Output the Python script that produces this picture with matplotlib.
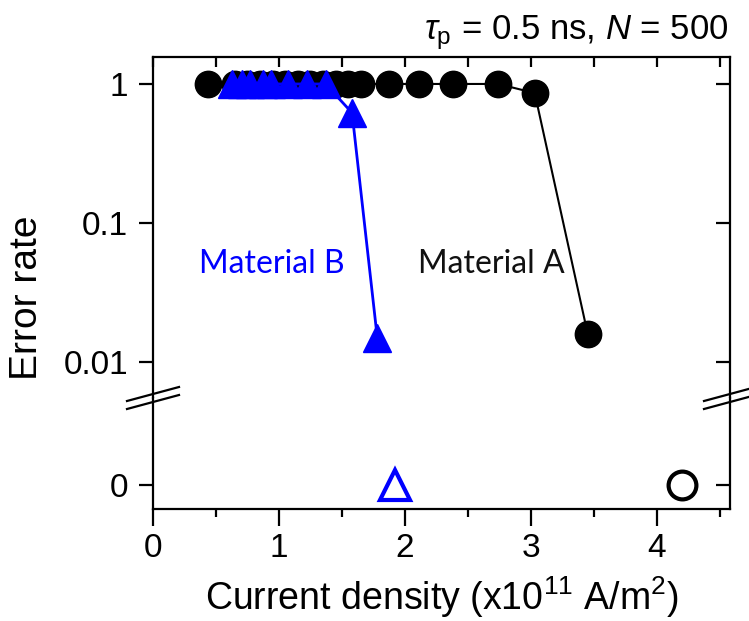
import matplotlib
matplotlib.use("Agg")
import matplotlib.pyplot as plt
from matplotlib.lines import Line2D

plt.rcParams['font.family'] = ['Liberation Sans', 'DejaVu Sans']
plt.rcParams['mathtext.fontset'] = 'custom'
plt.rcParams['mathtext.rm'] = 'Liberation Sans'
plt.rcParams['mathtext.it'] = 'Liberation Sans:italic'
plt.rcParams['mathtext.bf'] = 'Liberation Sans:bold'

# ---- data ----
a_x = [0.44, 0.65, 0.75, 0.85, 0.95, 1.05, 1.15, 1.25, 1.35, 1.45, 1.55, 1.65, 1.87, 2.11, 2.38, 2.74, 3.03, 3.45]
a_y = [1, 1, 1, 1, 1, 1, 1, 1, 1, 1, 1, 1, 1, 1, 1, 1, 0.86, 0.016]
b_x = [0.63, 0.71, 0.77, 0.87, 0.94, 1.07, 1.22, 1.37, 1.58, 1.78]
b_y = [1, 1, 1, 1, 1, 1, 1, 1, 0.62, 0.015]
a_zero_x = [4.2]
b_zero_x = [1.92]
zero_y = [0]
x_ticks = [0, 1, 2, 3, 4]
x_minor = [0.5, 1.5, 2.5, 3.5, 4.5]
y_ticks_log = [0.01, 0.1, 1]
y_ticklabels_log = ['0.01', '0.1', '1']

W, H = 749, 621
fig = plt.figure(figsize=(W / 100, H / 100), dpi=100)

L, R, T, B, BRK = 153, 730, 57, 509, 398
ax_top = fig.add_axes([L / W, 1 - BRK / H, (R - L) / W, (BRK - T) / H])
ax_bot = fig.add_axes([L / W, 1 - B / H, (R - L) / W, (B - BRK) / H], sharex=ax_top)

lw_sp = 1.6
TICK_FS = 24
for ax in (ax_top, ax_bot):
    for s in ax.spines.values():
        s.set_linewidth(lw_sp)
ax_top.spines['bottom'].set_visible(False)
ax_bot.spines['top'].set_visible(False)

# Top (log) panel
ax_top.plot(a_x, a_y, '-', color='black', lw=1.5, marker='o', ms=19,
            mfc='black', mec='black', zorder=3)
ax_top.plot(b_x, b_y, '-', color='#0000ff', lw=2, marker='^', ms=20,
            mfc='#0000ff', mec='#0000ff', zorder=4)
ax_top.set_yscale('log')
ax_top.set_ylim(0.00551, 1.563)
ax_top.set_yticks(y_ticks_log)
ax_top.set_yticklabels(y_ticklabels_log)
ax_top.yaxis.set_minor_locator(matplotlib.ticker.NullLocator())
ax_top.set_xlim(0, 4.58)
ax_top.set_xticks(x_ticks)
ax_top.set_xticks(x_minor, minor=True)
ax_top.tick_params(axis='x', which='both', bottom=False, top=True, labelbottom=False,
                   direction='in', length=7, width=lw_sp)
ax_top.tick_params(axis='y', which='major', direction='out', length=10, width=lw_sp,
                   labelsize=TICK_FS, pad=8)

tw = ax_top.twinx()
tw.set_yscale('log')
tw.set_ylim(ax_top.get_ylim())
tw.set_yticks(y_ticks_log)
tw.yaxis.set_minor_locator(matplotlib.ticker.NullLocator())
tw.set_yticklabels([])
tw.tick_params(axis='y', direction='in', length=10, width=lw_sp)
for s in tw.spines.values():
    s.set_visible(False)

# Bottom (zero) panel
ax_bot.plot(b_zero_x, zero_y, linestyle='none', marker='^', ms=21, mfc='none',
            mec='#0000ff', mew=3)
ax_bot.plot(a_zero_x, zero_y, linestyle='none', marker='o', ms=20, mfc='none',
            mec='black', mew=3)
ax_bot.set_ylim(-1, 3.625)
ax_bot.set_yticks([0])
ax_bot.set_yticklabels(['0'])
ax_bot.set_xticks(x_ticks)
ax_bot.set_xticks(x_minor, minor=True)
ax_bot.tick_params(axis='x', which='major', direction='out', length=12, width=lw_sp,
                   labelsize=TICK_FS, pad=5)
ax_bot.tick_params(axis='x', which='minor', direction='out', length=6, width=lw_sp)
ax_bot.tick_params(axis='y', direction='out', length=10, width=lw_sp,
                   labelsize=TICK_FS, pad=8)
ax_bot.set_xlim(0, 4.58)

tw2 = ax_bot.twinx()
tw2.set_ylim(ax_bot.get_ylim())
tw2.set_yticks([0])
tw2.set_yticklabels([])
tw2.tick_params(axis='y', direction='in', length=10, width=lw_sp)
for s in tw2.spines.values():
    s.set_visible(False)

# break marks
def brk(xc, yc):
    for dy in (-4, 4):
        x0, x1 = xc - 26, xc + 26
        y0, y1 = yc + dy + 7, yc + dy - 7
        fig.add_artist(Line2D([x0 / W, x1 / W], [1 - y0 / H, 1 - y1 / H],
                              transform=fig.transFigure, color='black', lw=1.6))
brk(L, BRK)
brk(R, BRK)

# labels
fig.text(442 / W, 1 - 610 / H, r'Current density (x10$^{11}$ A/m$^{2}$)',
         ha='center', va='baseline', fontsize=27)
fig.text(27 / W, 1 - 298 / H, 'Error rate', rotation=90, ha='center', va='center',
         fontsize=28)
fig.text(728 / W, 1 - 39 / H, r'$\tau_{\rm p}$ = 0.5 ns, $N$ = 500', ha='right',
         va='baseline', fontsize=25)

fig.text((198 + 345) / 2 / W, 1 - 264 / H, 'Material B', color='#0000ff',
         family=['Lato', 'DejaVu Sans'], ha='center', va='center', fontsize=23)
fig.text((417 + 565) / 2 / W, 1 - 264 / H, 'Material A', color='#111111',
         family=['Lato', 'DejaVu Sans'], ha='center', va='center', fontsize=23)

fig.savefig('out.png', dpi=100)
